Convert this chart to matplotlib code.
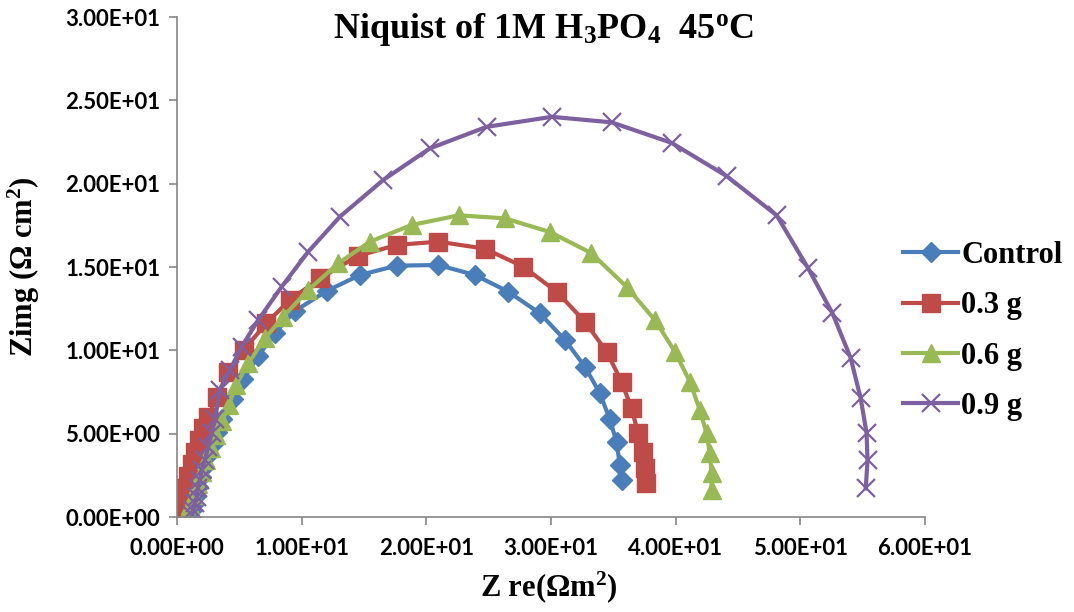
import numpy as np
import matplotlib.pyplot as plt
from matplotlib.ticker import FuncFormatter

plt.rcParams['mathtext.fontset'] = 'custom'
plt.rcParams['mathtext.rm'] = 'Liberation Serif:bold'
plt.rcParams['mathtext.bf'] = 'Liberation Serif:bold'
plt.rcParams['mathtext.it'] = 'Liberation Serif:bold'

# Nyquist data (Z re, Z img)
control_x = [1.0, 1.15, 1.3, 1.5, 1.7, 1.95, 2.2, 2.5, 2.85, 3.2, 3.63, 4.47, 5.32, 6.52, 7.86,
             9.46, 12.0, 14.68, 17.62, 20.95, 23.9, 26.57, 29.11, 31.12, 32.72, 33.92, 34.72,
             35.26, 35.52, 35.66]
control_y = [0.05, 0.35, 0.75, 1.25, 1.8, 2.4, 3.0, 3.7, 4.4, 5.1, 5.86, 7.06, 8.26, 9.66, 11.04,
             12.36, 13.56, 14.52, 15.08, 15.12, 14.52, 13.52, 12.22, 10.62, 9.02, 7.42, 5.86,
             4.5, 3.12, 2.22]

g03_x = [0.24, 0.40, 0.64, 0.88, 1.18, 1.44, 1.76, 2.08, 2.51, 3.18, 4.11, 5.37, 7.14, 9.06,
         11.47, 14.49, 17.62, 20.95, 24.70, 27.77, 30.45, 32.72, 34.46, 35.66, 36.46, 36.99,
         37.35, 37.53, 37.59]
g03_y = [0.36, 1.02, 1.74, 2.46, 3.18, 3.9, 4.62, 5.34, 6.02, 7.22, 8.72, 10.02, 11.62, 13.02,
         14.32, 15.66, 16.32, 16.52, 16.1, 15.02, 13.52, 11.72, 9.92, 8.12, 6.52, 5.02,
         3.92, 2.92, 2.02]

g06_x = [0.8, 1.04, 1.36, 1.68, 2.0, 2.33, 2.73, 3.13, 3.61, 4.17, 4.73, 5.72, 7.06, 8.52,
         10.53, 12.94, 15.48, 18.82, 22.6, 26.3, 29.91, 33.2, 36.06, 38.33, 39.94, 41.14,
         41.94, 42.48, 42.74, 42.88, 42.88]
g06_y = [0.24, 0.72, 1.32, 1.98, 2.7, 3.42, 4.14, 4.92, 5.76, 6.72, 7.92, 9.22, 10.72, 12.02,
         13.62, 15.22, 16.52, 17.52, 18.1, 17.92, 17.1, 15.85, 13.82, 11.82, 9.92, 8.12,
         6.42, 5.02, 3.82, 2.62, 1.62]

g09_x = [1.2, 1.28, 1.44, 1.58, 1.68, 1.84, 1.98, 2.25, 2.49, 2.78, 3.05, 3.45, 4.25, 5.19,
         6.52, 8.40, 10.53, 13.07, 16.54, 20.29, 24.84, 30.05, 34.86, 39.67, 44.08, 48.1,
         50.63, 52.58, 54.03, 54.83, 55.31, 55.39, 55.25]
g09_y = [0.12, 0.42, 0.84, 1.2, 1.74, 2.22, 2.82, 3.42, 4.2, 5.02, 5.9, 7.62, 8.82, 10.22,
         11.82, 13.82, 15.92, 18.02, 20.22, 22.12, 23.41, 24.01, 23.68, 22.45, 20.46, 18.1,
         14.92, 12.22, 9.56, 7.16, 5.06, 3.42, 1.72]

fig = plt.figure(figsize=(10.74, 6.12), dpi=100)
ax = fig.add_axes([177/1074, 1 - 517/612, 748/1074, 500/612])

ax.plot(control_x, control_y, color='#4A7EBB', lw=3, marker='D', ms=10, label='Control')
ax.plot(g03_x, g03_y, color='#BE4B48', lw=3, marker='s', ms=13, label='0.3 g')
ax.plot(g06_x, g06_y, color='#98B954', lw=3, marker='^', ms=13, label='0.6 g')
ax.plot(g09_x, g09_y, color='#7D60A0', lw=3, marker='x', ms=13, mew=1.6, label='0.9 g')

ax.set_xlim(0, 60)
ax.set_ylim(0, 30)
ax.set_xticks(np.arange(0, 61, 10))
ax.set_yticks(np.arange(0, 31, 5))
fmt = FuncFormatter(lambda v, p: f'{v:.2E}')
ax.xaxis.set_major_formatter(fmt)
ax.yaxis.set_major_formatter(fmt)

for s in ['top', 'right']:
    ax.spines[s].set_visible(False)
for s in ['left', 'bottom']:
    ax.spines[s].set_color('#868686')
    ax.spines[s].set_linewidth(1.2)
ax.tick_params(direction='out', length=6, width=1.2, color='#868686')
for lab in ax.get_xticklabels() + ax.get_yticklabels():
    lab.set_fontfamily('Lato')
    lab.set_fontweight('bold')
    lab.set_fontsize(16)
ax.tick_params(axis='x', pad=9)
ax.tick_params(axis='y', pad=6)

ax.set_xlabel(r'Z re($\Omega$m$^2$)', fontfamily='Liberation Serif', fontweight='bold',
              fontsize=22)
ax.set_ylabel(r'Zimg ($\Omega$ cm$^2$)', fontfamily='Liberation Serif', fontweight='bold',
              fontsize=22)
ax.xaxis.set_label_coords(0.497, -0.105)
ax.yaxis.set_label_coords(-0.18, 0.5)
fig.text(0.506, 0.952, r'Niquist of 1M H$_3$PO$_4$  45$^o$C', ha='center', va='center',
         fontfamily='Liberation Serif', fontweight='bold', fontsize=26)

fig.legend(loc='center left', bbox_to_anchor=(903/1074, 1 - 331/612), frameon=False,
           borderpad=0, borderaxespad=0, handlelength=1.8, handletextpad=0.1,
           labelspacing=0.7, prop={'family': 'Liberation Serif', 'weight': 'bold', 'size': 22})

fig.savefig('out.png', dpi=100)
